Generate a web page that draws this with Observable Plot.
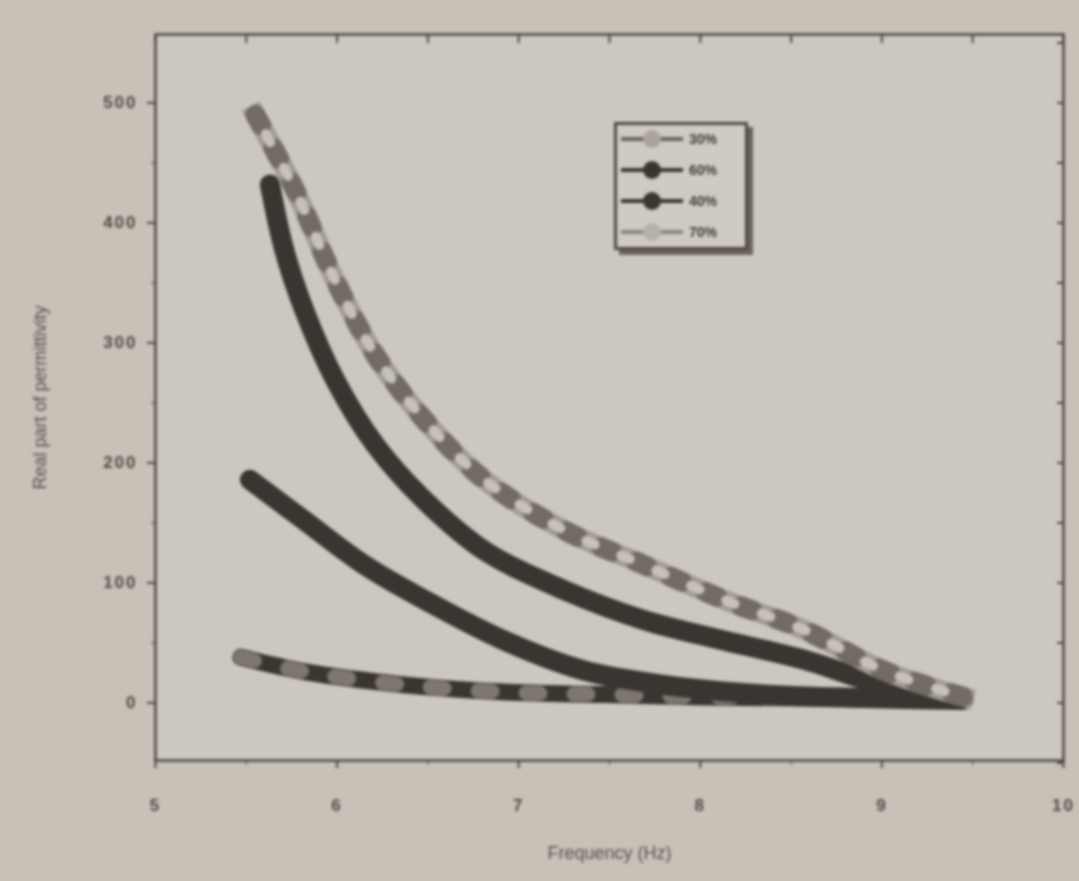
<!DOCTYPE html>
<html><head><meta charset="utf-8">
<script src="https://cdn.jsdelivr.net/npm/d3@7"></script>
<script src="https://cdn.jsdelivr.net/npm/@observablehq/plot@0.6"></script>
<style>
body{margin:0;background:#c7c1b8;}
#wrap{position:relative;width:1079px;height:881px;overflow:hidden;background:#c7c1b8;}
#chart svg{filter:blur(1.4px);}
#chart svg g[aria-label$="tick label"]{font-size:17px !important;font-weight:bold;letter-spacing:2px;}
#chart svg g[aria-label$="tick label"] text{font-size:17px !important;fill:#4f4a44;}
#chart svg [aria-label="x-axis label"] text, #chart svg [aria-label="y-axis label"] text{font-size:18px;fill:#55504a;}
#legend{position:absolute;left:614px;top:122px;width:128px;height:122px;border:3px solid #4e4843;box-shadow:5px 5px 0 #6a645d;background:#cfcac2;filter:blur(1.4px);font-family:"Liberation Sans",Arial,sans-serif;font-size:14px;color:#3f3a35;}
.row{position:absolute;left:4px;height:22px;display:flex;align-items:center;}
.sw{position:relative;width:62px;height:22px;}
.sw .ln{position:absolute;left:0;top:9px;width:62px;height:4px;}
.sw .mk{position:absolute;left:22px;top:2px;width:18px;height:18px;border-radius:50%;}
.lab{margin-left:6px;font-weight:bold;}
</style></head>
<body><div id="wrap"><div id="chart"></div><div id="legend"></div></div>
<script>
const seriesNames = ["30%", "60%", "40%", "70%"];
const freqA = [5.55,5.77,5.99,6.21,6.48,6.81,7.25,7.69,8.13,8.57,9.01,9.45];
const epsA  = [490,427,352,290,236,186,144,115,86,61,27,5];
const freqB = [5.63,5.71,5.82,5.99,6.21,6.48,6.81,7.25,7.69,8.13,8.57,9.01,9.45];
const epsB  = [432,377,327,269,215,169,127,94,69,52,36,15,5];
const freqC = [5.52,5.82,6.15,6.48,6.92,7.36,7.80,8.35,8.90,9.45];
const epsC  = [186,152,115,86,52,27,15,7,4,2.5];
const freqD = [5.47,5.82,6.37,6.92,7.47,8.02,8.57,9.45];
const epsD  = [38,26,15,9,7,5,4,2.5];
const xTicks = [5,6,7,8,9,10];
const yTicks = [0,100,200,300,400,500];

const mk = (f,e,s) => f.map((v,i)=>({freq:v, eps:e[i], s}));
const A = mk(freqA,epsA,seriesNames[0]);
const B = mk(freqB,epsB,seriesNames[1]);
const C = mk(freqC,epsC,seriesNames[2]);
const D = mk(freqD,epsD,seriesNames[3]);

const ink = "#4a4540";
const dark = "#3b3531";
const font = "Liberation Sans, Arial, sans-serif";

const plot = Plot.plot({
  width: 1079, height: 881,
  marginLeft: 155, marginRight: 16, marginTop: 34, marginBottom: 121,
  style: {background: "transparent", fontFamily: font, fontSize: "17px", color: "#4a4540"},
  x: {domain: [5, 10]},
  y: {domain: [-48, 557]},
  marks: [
    Plot.rect([0], {x1: 5, x2: 10, y1: -48, y2: 557, fill: "#cdc8bf"}),
    Plot.frame({stroke: ink, strokeWidth: 2.5}),
    Plot.axisX({ticks: xTicks, tickSize: 8, tickPadding: 30, stroke: ink, strokeWidth: 2, fontSize: 17, label: "Frequency (Hz)", labelAnchor: "center", labelOffset: 98, labelArrow: "none", tickFormat: d3.format("d")}),
    Plot.axisX({ticks: d3.range(5.5, 10, 1), tickSize: 5, tickFormat: () => "", stroke: ink, label: null}),
    Plot.axisX({anchor: "top", ticks: d3.range(5, 10.01, 0.5), tickSize: -8, tickFormat: () => "", stroke: ink, strokeWidth: 2, label: null}),
    Plot.axisY({ticks: yTicks, tickSize: 8, tickPadding: 10, stroke: ink, strokeWidth: 2, fontSize: 17, label: "Real part of permittivity", labelAnchor: "center", labelOffset: 122, labelArrow: "none", tickFormat: d3.format("d")}),
    Plot.axisY({ticks: d3.range(50, 550, 100), tickSize: 4, tickFormat: () => "", stroke: ink, label: null}),
    Plot.axisY({anchor: "right", ticks: d3.range(-50, 551, 50), tickSize: -7, tickFormat: () => "", stroke: ink, strokeWidth: 2, label: null}),
    // series D (dark with grey dashes)
    Plot.line(D, {x: "freq", y: "eps", stroke: dark, strokeWidth: 17, strokeLinecap: "round", curve: "catmull-rom"}),
    Plot.line(D, {x: "freq", y: "eps", stroke: "#7d7770", strokeWidth: 15, strokeDasharray: "14 34", curve: "catmull-rom"}),
    // series C
    Plot.line(C, {x: "freq", y: "eps", stroke: dark, strokeWidth: 20, strokeLinecap: "round", curve: "catmull-rom"}),
    // series B
    Plot.line(B, {x: "freq", y: "eps", stroke: dark, strokeWidth: 20, strokeLinecap: "round", curve: "catmull-rom"}),
    // series A (light checkered)
    Plot.line(A, {x: "freq", y: "eps", stroke: "#a19b93", strokeWidth: 20, strokeLinecap: "square", curve: "catmull-rom"}),
    Plot.line(A, {x: "freq", y: "eps", stroke: "#716b64", strokeWidth: 20, strokeDasharray: "12 26", curve: "catmull-rom"}),
    Plot.line(A, {x: "freq", y: "eps", stroke: "#c6c1b9", strokeWidth: 10, strokeDasharray: "9 29", strokeDashoffset: -22, curve: "catmull-rom"})
  ]
});
document.getElementById("chart").appendChild(plot);

const legendStyles = [
  {line: "#6a645d", mk: "#aaa49c"},
  {line: "#3b3531", mk: "#3b3531"},
  {line: "#3b3531", mk: "#3b3531"},
  {line: "#8a847c", mk: "#b5b0a8"}
];
const lg = document.getElementById("legend");
seriesNames.forEach((n, i) => {
  const r = document.createElement("div");
  r.className = "row";
  r.style.top = (3 + i * 31) + "px";
  r.innerHTML = `<div class="sw"><div class="ln" style="background:${legendStyles[i].line}"></div><div class="mk" style="background:${legendStyles[i].mk}"></div></div><span class="lab">${n}</span>`;
  lg.appendChild(r);
});
</script></body></html>
